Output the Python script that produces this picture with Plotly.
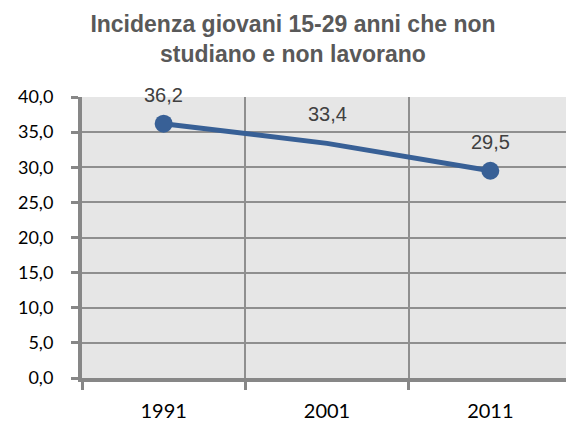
import plotly.graph_objects as go

categories = ["1991", "2001", "2011"]
values = [36.2, 33.4, 29.5]
marker_sizes = [18, 0, 18]
y_ticks = [0, 5, 10, 15, 20, 25, 30, 35, 40]
title_text = "Incidenza giovani 15-29 anni che non<br>studiano e non lavorano"

xpos = list(range(len(categories)))
labels = [f"{v:.1f}".replace(".", ",") for v in values]

fig = go.Figure()
fig.add_trace(go.Scatter(
    x=xpos, y=values, mode="lines+markers",
    line=dict(color="#386096", width=5),
    marker=dict(color="#386096", size=marker_sizes, opacity=1, line=dict(width=0)),
    hoverinfo="skip", showlegend=False,
))

for xp, v, lab in zip(xpos, values, labels):
    fig.add_annotation(
        x=xp, y=v, xref="x", yref="y", text=lab, showarrow=False,
        yshift=29, font=dict(family="Liberation Sans, Arial", size=20, color="#404040"),
    )

# page body adds an 8px offset; figure sized to fit the 574x424 window
fig.update_layout(
    width=566, height=416,
    margin=dict(l=74, r=2, t=89, b=46),
    paper_bgcolor="white", plot_bgcolor="#e6e6e6",
    separators=",.",
    title=dict(text=title_text, x=0.5035, xanchor="center", xref="container",
               y=0.943, yanchor="top", yref="container",
               font=dict(family="Liberation Sans, Arial", size=23, color="#595959", weight="bold")),
)
fig.update_xaxes(
    range=[-0.5, len(categories) - 0.5], automargin=False,
    tickvals=xpos, ticktext=categories, ticks="", showgrid=False,
    minor=dict(tick0=-0.5, dtick=1, showgrid=True, gridcolor="#8f8f8f", gridwidth=1.5,
               ticks="outside", ticklen=8, tickwidth=3, tickcolor="#878787"),
    showline=True, linecolor="#878787", linewidth=4,
    ticklabelstandoff=12,
    tickfont=dict(family="Lato, Carlito, sans-serif", size=20, color="#000000"),
    zeroline=False,
)
fig.update_yaxes(
    range=[0, 40], tickvals=y_ticks, tickformat=".1f", automargin=False,
    showgrid=True, gridcolor="#8f8f8f", gridwidth=1.5,
    showline=True, linecolor="#878787", linewidth=4,
    ticks="outside", ticklen=7, tickwidth=3, tickcolor="#878787",
    ticklabelstandoff=14, zeroline=False,
    tickfont=dict(family="Lato, Carlito, sans-serif", size=18, color="#000000"),
)

fig.write_html("out.html")
